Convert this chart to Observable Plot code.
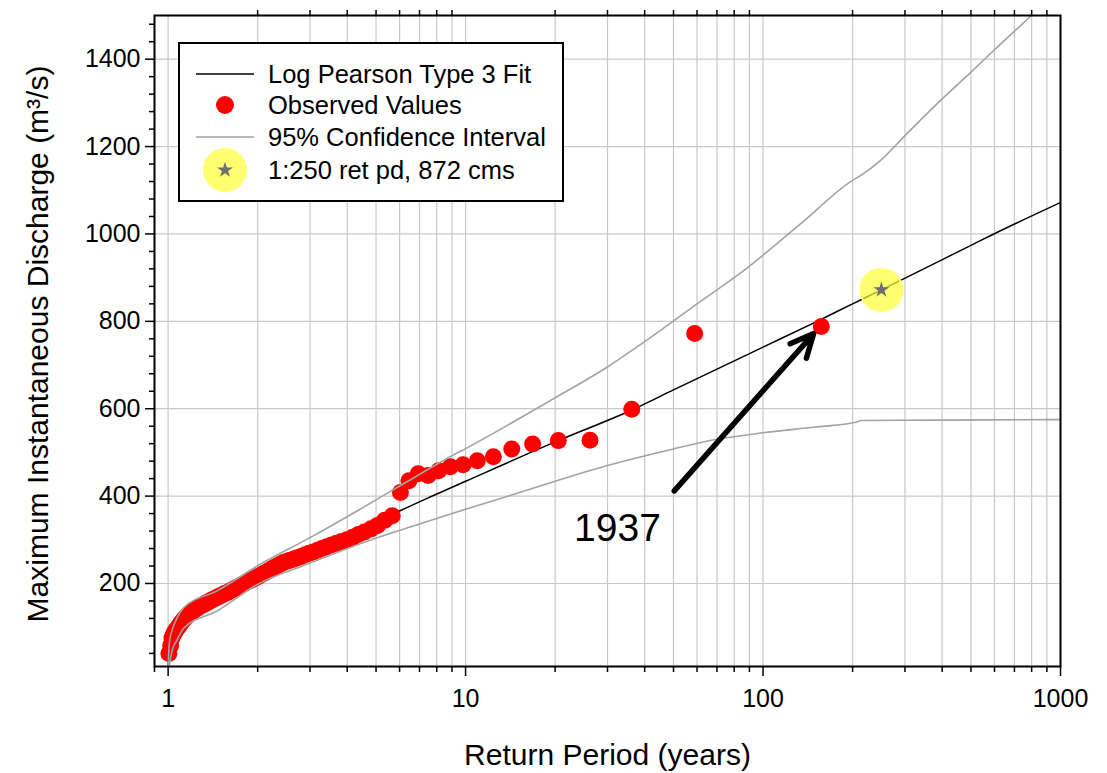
<!DOCTYPE html>
<html><head><meta charset="utf-8">
<script src="https://cdn.jsdelivr.net/npm/d3@7"></script>
<script src="https://cdn.jsdelivr.net/npm/@observablehq/plot@0.6"></script>
<style>
body{margin:0;background:#fff;font-family:"Liberation Sans",Arial,sans-serif;}
#wrap{position:relative;width:1107px;height:773px;}
#legend{position:absolute;left:178px;top:42px;width:382px;height:156px;border:2px solid #000;background:#fff;}
#legend svg{position:absolute;left:0;top:0;}
.lt{position:absolute;left:88px;font-size:25.5px;line-height:26px;transform:translateY(-50%);white-space:nowrap;color:#000;}
</style></head>
<body><div id="wrap"></div>
<script>
// Log Pearson Type 3 fit
const fitT = [1.001, 1.005, 1.02, 1.05, 1.1, 1.2, 1.5, 2, 3, 4, 5, 6, 7.6, 10, 20, 37, 50, 100, 152, 200, 250, 500, 597, 1000];
const fitQ = [12, 40, 75, 100, 120, 140, 175, 218, 270, 310, 340, 366, 398, 434, 524, 600, 643, 741, 800, 840, 872, 974, 1000, 1072];
// 95% confidence interval, upper
const upT = [1.001, 1.004, 1.012, 1.03, 1.07, 1.13, 1.46, 2.04, 3, 4.42, 6, 8.88, 10.4, 20, 29.9, 39.7, 60, 86.1, 133.6, 199.4, 212, 248, 300, 400, 499, 597, 798];
const upQ = [12, 38, 69, 92, 120, 145, 183, 244, 305, 370, 423, 490, 515, 625, 695, 752, 840, 916, 1023, 1122, 1133, 1168, 1225, 1309, 1370, 1420, 1500];
// 95% confidence interval, lower
const loT = [1.01, 1.03, 1.07, 1.13, 1.46, 2, 2.93, 4.9, 7, 10, 15, 20, 30, 50, 70, 100, 150, 205, 215, 400, 1000];
const loQ = [12, 45, 70, 98, 137, 198, 244, 302, 336, 370, 407, 434, 470, 508, 530, 545, 558, 569, 573, 574, 575];
// Observed values (return period, discharge)
const obsT = [157, 58.9, 36.2, 26.2, 20.5, 16.8, 14.3, 12.4, 10.95, 9.81, 8.89, 8.12, 7.48, 6.93, 6.45, 6.04,
  5.67, 5.35, 5.06, 4.81, 4.57, 4.36, 4.17, 3.99, 3.83, 3.68, 3.54, 3.41, 3.29, 3.18, 3.08, 2.98, 2.89, 2.80, 2.72, 2.65,
  2.57, 2.51, 2.44, 2.38, 2.32, 2.26, 2.21, 2.16, 2.11, 2.07, 2.02, 1.98, 1.94, 1.90, 1.86, 1.83, 1.79, 1.76, 1.73, 1.69,
  1.66, 1.64, 1.61, 1.58, 1.55, 1.53, 1.50, 1.48, 1.46, 1.43, 1.41, 1.39, 1.37, 1.35, 1.33, 1.32, 1.30, 1.28, 1.26, 1.25,
  1.23, 1.21, 1.20, 1.18, 1.17, 1.15, 1.14, 1.13, 1.11, 1.10, 1.09, 1.08, 1.06, 1.05, 1.04, 1.03, 1.02, 1.006];
const obsQ = [788, 772, 599, 528, 527, 519, 508, 490, 481, 472, 467, 458, 447, 451, 435, 408,
  355, 345, 333, 325, 318, 312, 306, 300, 296, 292, 288, 284, 280, 276, 272, 269, 266, 262, 259, 256,
  253, 251, 248, 244, 240, 236, 232, 228, 224, 221, 217, 214, 211, 208, 205, 202, 199, 196, 193, 190,
  187, 185, 182, 179, 177, 175, 172, 170, 168, 165, 163, 161, 158, 156, 154, 152, 150, 148, 145, 143,
  140, 137, 134, 131, 128, 124, 121, 118, 112, 108, 104, 100, 93, 88, 82, 75, 58, 40];
// 1:250 return period design value
const designT = [250];
const designQ = [872];
// annotation
const noteLabel = ["1937"];
const noteT = [32.4];
const noteQ = [325];
const arrowFromT = [50.3], arrowFromQ = [412], arrowToT = [148], arrowToQ = [772];
// ticks
const xMajor = [1, 10, 100, 1000];
const xMinor = [0.9, 2, 3, 4, 5, 6, 7, 8, 9, 20, 30, 40, 50, 60, 70, 80, 90, 200, 300, 400, 500, 600, 700, 800, 900];
const xTop = [2, 3, 4, 5, 6, 7, 8, 9, 20, 30, 40, 50, 60, 70, 80, 90, 200, 300, 400, 500, 600, 700, 800, 900];
const xGrid = [1, 2, 3, 4, 5, 6, 7, 8, 9, 10, 20, 30, 40, 50, 60, 70, 80, 90, 100, 200, 300, 400, 500, 600, 700, 800, 900, 1000];
const yMajor = [200, 400, 600, 800, 1000, 1200, 1400];
const yMinor = [40, 80, 120, 160, 240, 280, 320, 360, 440, 480, 520, 560, 640, 680, 720, 760, 840, 880, 920, 960,
  1040, 1080, 1120, 1160, 1240, 1280, 1320, 1360, 1440, 1480];
const xTitle = "Return Period (years)";
const yTitle = "Maximum Instantaneous Discharge (m³/s)";
const legendLabels = ["Log Pearson Type 3 Fit", "Observed Values", "95% Confidence Interval", "1:250 ret pd, 872 cms"];

const fit = fitT.map((t, i) => ({t, q: fitQ[i]}));
const up = upT.map((t, i) => ({t, q: upQ[i]}));
const lo = loT.map((t, i) => ({t, q: loQ[i]}));
const obs = obsT.map((t, i) => ({t, q: obsQ[i]}));
const design = designT.map((t, i) => ({t, q: designQ[i]}));
const note = noteLabel.map((s, i) => ({s, t: noteT[i], q: noteQ[i]}));
const arrow = arrowFromT.map((t, i) => ({t1: t, q1: arrowFromQ[i], t2: arrowToT[i], q2: arrowToQ[i]}));

const gray = "#a3a3a3";
const chart = Plot.plot({
  width: 1107, height: 773,
  marginLeft: 154, marginRight: 47, marginTop: 15, marginBottom: 107,
  style: {fontFamily: "'Liberation Sans', Arial, sans-serif", background: "white", color: "black"},
  x: {type: "log", domain: [0.9, 1000], label: null},
  y: {domain: [10, 1500], label: null},
  marks: [
    Plot.gridX(xGrid, {stroke: "#c8c8c8", strokeOpacity: 1, strokeWidth: 1.2}),
    Plot.gridY(yMajor, {stroke: "#c8c8c8", strokeOpacity: 1, strokeWidth: 1.2}),
    Plot.line(fit, {x: "t", y: "q", stroke: "black", strokeWidth: 1.5, curve: "monotone-x", clip: true}),
    Plot.dot(obs, {x: "t", y: "q", r: 8.5, fill: "#ff0000", clip: true}),
    Plot.line(up, {x: "t", y: "q", stroke: gray, strokeWidth: 1.6, curve: "monotone-x", clip: true}),
    Plot.line(lo, {x: "t", y: "q", stroke: gray, strokeWidth: 1.6, curve: "monotone-x", clip: true}),
    Plot.dot(design, {x: "t", y: "q", r: 21, fill: "#ffff33", fillOpacity: 0.7, stroke: "#ffff70", strokeWidth: 2}),
    Plot.dot(design, {x: "t", y: "q", r: 5, symbol: "star", fill: "#6e6e6e"}),
    Plot.arrow(arrow, {x1: "t1", y1: "q1", x2: "t2", y2: "q2", stroke: "black", strokeWidth: 5.5, headLength: 7, headAngle: 50}),
    Plot.text(note, {x: "t", y: "q", text: "s", fontSize: 39, textAnchor: "middle", fill: "black"}),
    Plot.frame({stroke: "black", strokeWidth: 2}),
    Plot.axisY(yMajor, {tickSize: 9, tickPadding: 5, fontSize: 25, strokeWidth: 1.5, tickFormat: d => String(d), label: null}),
    Plot.axisY(yMinor, {tickSize: 5, strokeWidth: 1.5, tickFormat: () => "", label: null}),
    Plot.axisX(xMajor, {tickSize: 10, tickPadding: 13, fontSize: 25, strokeWidth: 1.5, tickFormat: d => String(d), label: null}),
    Plot.axisX(xMinor, {tickSize: 6, strokeWidth: 1.5, tickFormat: () => "", label: null}),
    Plot.axisX(xTop, {anchor: "top", tickSize: 6, strokeWidth: 1.5, tickFormat: () => "", label: null}),
    Plot.text([xTitle], {text: d => d, frameAnchor: "bottom", lineAnchor: "middle", textAnchor: "middle", dy: 89, fontSize: 30, fill: "black"}),
    Plot.text([yTitle], {text: d => d, frameAnchor: "left", lineAnchor: "middle", textAnchor: "middle", dx: -116, dy: 3, rotate: -90, fontSize: 30, fill: "black"})
  ]
});
const wrap = document.getElementById("wrap");
wrap.appendChild(chart);

// legend (HTML overlay inside the plot area)
const lg = document.createElement("div");
lg.id = "legend";
const rows = [30, 61, 93, 126];
lg.innerHTML = `<svg width="382" height="156">
  <line x1="16" x2="74" y1="${rows[0]}" y2="${rows[0]}" stroke="black" stroke-width="1.5"/>
  <circle cx="45" cy="${rows[1]}" r="9" fill="#ff0000"/>
  <line x1="16" x2="74" y1="${rows[2]}" y2="${rows[2]}" stroke="${gray}" stroke-width="1.6"/>
  <circle cx="45" cy="${rows[3]}" r="21" fill="#ffff33" fill-opacity="0.7" stroke="#ffff70" stroke-width="2"/>
  <path transform="translate(45,${rows[3]})" d="${d3.symbol(d3.symbolStar, Math.PI * 25)()}" fill="#6e6e6e"/>
</svg>` + legendLabels.map((s, i) => `<div class="lt" style="top:${rows[i]}px">${s}</div>`).join("");
wrap.appendChild(lg);
</script>
</body></html>
